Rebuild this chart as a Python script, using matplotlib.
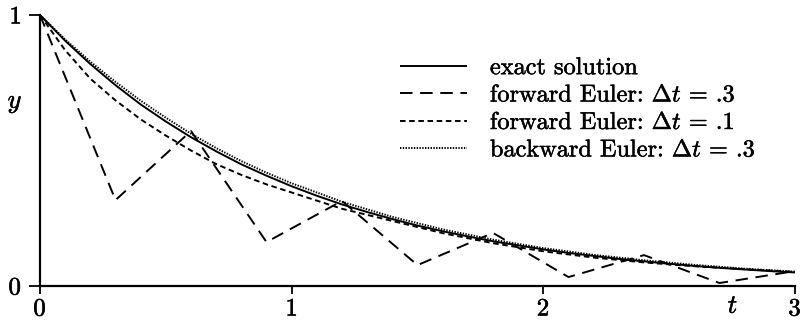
import matplotlib
matplotlib.use("Agg")
import matplotlib.pyplot as plt
import matplotlib.patheffects as pe

plt.rcParams["font.family"] = ["cmr10", "DejaVu Serif"]
plt.rcParams["mathtext.fontset"] = "cm"
plt.rcParams["axes.formatter.use_mathtext"] = True
plt.rcParams["lines.scale_dashes"] = False

# exact solution
t_exact = [0.0, 0.1, 0.2, 0.3, 0.4, 0.5, 0.6, 0.7, 0.8, 0.9, 1.0,
           1.1, 1.2, 1.3, 1.4, 1.5, 1.6, 1.7, 1.8, 1.9, 2.0,
           2.1, 2.2, 2.3, 2.4, 2.5, 2.6, 2.7, 2.8, 2.9, 3.0]
y_exact = [1.000, 0.905, 0.819, 0.741, 0.670, 0.607, 0.549, 0.497, 0.449, 0.407, 0.368,
           0.333, 0.301, 0.273, 0.247, 0.223, 0.202, 0.183, 0.165, 0.150, 0.135,
           0.122, 0.111, 0.100, 0.091, 0.082, 0.074, 0.067, 0.061, 0.055, 0.050]

# forward Euler, dt = .3
t_fe3 = [0.0, 0.3, 0.6, 0.9, 1.2, 1.5, 1.8, 2.1, 2.4, 2.7, 3.0]
y_fe3 = [1.000, 0.317, 0.572, 0.162, 0.314, 0.077, 0.196, 0.033, 0.114, 0.011, 0.055]

# forward Euler, dt = .1
t_fe1 = [0.0, 0.1, 0.2, 0.3, 0.4, 0.5, 0.6, 0.7, 0.8, 0.9, 1.0,
         1.2, 1.4, 1.6, 1.8, 2.0, 2.2, 2.4, 2.6, 2.8, 3.0]
y_fe1 = [1.000, 0.870, 0.765, 0.685, 0.615, 0.555, 0.500, 0.450, 0.410, 0.375, 0.345,
         0.285, 0.240, 0.195, 0.158, 0.128, 0.105, 0.087, 0.073, 0.062, 0.052]

# backward Euler, dt = .3
t_be3 = [0.0, 0.1, 0.2, 0.3, 0.4, 0.5, 0.6, 0.7, 0.8, 0.9, 1.0,
         1.2, 1.4, 1.6, 1.8, 2.0, 2.2, 2.4, 2.6, 2.8, 3.0]
y_be3 = [1.000, 0.910, 0.828, 0.753, 0.684, 0.621, 0.562, 0.509, 0.461, 0.418, 0.379,
         0.311, 0.255, 0.209, 0.171, 0.140, 0.115, 0.095, 0.078, 0.064, 0.053]

labels = ["exact solution",
          r"forward Euler: $\Delta t$ = .3",
          r"forward Euler: $\Delta t$ = .1",
          r"backward Euler: $\Delta t$ = .3"]

W, H = 801, 326
fig = plt.figure(figsize=(W / 100, H / 100), dpi=100)
ax = fig.add_axes([40 / W, (H - 286) / H, (795 - 40) / W, (286 - 15) / H])

# slightly heavier glyphs, like printed type
ink = [pe.withStroke(linewidth=0.35, foreground="black")]

lw = 1.4
ax.plot(t_exact, y_exact, color="black", lw=lw, solid_capstyle="butt", label=labels[0])
ax.plot(t_fe3, y_fe3, color="black", lw=lw, dashes=(9, 5.5), label=labels[1])
ax.plot(t_fe1, y_fe1, color="black", lw=lw, dashes=(4, 2.6), label=labels[2])
ax.plot(t_be3, y_be3, color="black", lw=lw, dashes=(1.0, 1.0), label=labels[3])

ax.set_xlim(0, 3)
ax.set_ylim(0, 1)
for side in ("top", "right"):
    ax.spines[side].set_visible(False)
for side in ("left", "bottom"):
    ax.spines[side].set_linewidth(1.6)

ax.set_xticks([0, 1, 2, 3])
ax.set_yticks([0, 1])
ax.tick_params(axis="x", direction="out", length=6, width=1.3, pad=3, labelsize=18)
ax.tick_params(axis="y", direction="out", length=8, width=1.3, pad=5, labelsize=18)
for lab in ax.get_xticklabels() + ax.get_yticklabels():
    lab.set_path_effects(ink)

ax.set_xlabel("$t$", fontsize=19)
ax.xaxis.set_label_coords((733 - 40) / (795 - 40), -0.03, transform=ax.transAxes)
ax.xaxis.label.set_va("top")
ax.set_ylabel("$y$", fontsize=19, rotation=0)
ax.yaxis.set_label_coords(-0.033, (286 - 103) / (286 - 15))
ax.yaxis.label.set_va("center")
ax.xaxis.label.set_path_effects(ink)
ax.yaxis.label.set_path_effects(ink)

leg = ax.legend(loc="upper left", bbox_to_anchor=(400 / W, (H - 57) / H),
                bbox_transform=fig.transFigure, frameon=False, fontsize=17.5,
                handlelength=2.75, handletextpad=0.95, labelspacing=0.22,
                borderpad=0, borderaxespad=0)
for txt in leg.get_texts():
    txt.set_path_effects(ink)

fig.savefig("out.png", dpi=100)
